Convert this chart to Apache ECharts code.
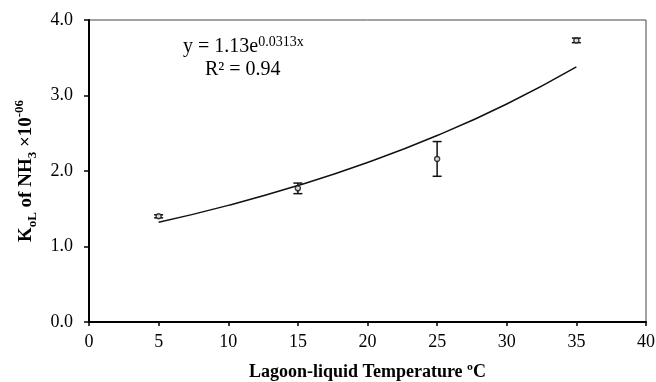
<!DOCTYPE html>
<html><head><meta charset="utf-8">
<script src="https://cdn.jsdelivr.net/npm/echarts@6/dist/echarts.min.js"></script>
<style>html,body{margin:0;padding:0;background:#fff}#c{width:656px;height:382px}</style>
</head><body><div id="c"></div>
<script>
const temps = [5, 15, 25, 35];
const kol = [1.40, 1.77, 2.16, 3.73];
const errs = [0.02, 0.07, 0.23, 0.03];
const trendX = [5, 10, 15, 20, 25, 30, 35];
const trendY = [1.32, 1.545, 1.807, 2.112, 2.47, 2.888, 3.38];
const xTicks = [0, 5, 10, 15, 20, 25, 30, 35, 40];
const yTicks = [0.0, 1.0, 2.0, 3.0, 4.0];

const F = '"Liberation Serif","Times New Roman",serif';
const chart = echarts.init(document.getElementById('c'));
chart.setOption({
  animation: false,
  backgroundColor: '#fff',
  grid: {left: 89, right: 10, top: 20, bottom: 60, show: true, borderColor: '#444', borderWidth: 1,
         containLabel: false, outerBoundsMode: 'none'},
  xAxis: {
    type: 'value', min: xTicks[0], max: xTicks[xTicks.length-1], interval: 5,
    axisLine: {lineStyle: {color: '#000', width: 2}},
    axisTick: {show: true, length: 4, lineStyle: {color: '#000', width: 1.5}},
    axisLabel: {color: '#000', fontFamily: F, fontSize: 18, margin: 11},
    splitLine: {show: false},
    name: 'Lagoon-liquid Temperature ºC', nameLocation: 'middle', nameGap: 41,
    nameTextStyle: {color: '#000', fontFamily: F, fontSize: 18, fontWeight: 'bold'}
  },
  yAxis: {
    type: 'value', min: yTicks[0], max: yTicks[yTicks.length-1], interval: 1,
    axisLine: {show: true, lineStyle: {color: '#000', width: 2}},
    axisTick: {show: true, length: 5, lineStyle: {color: '#000', width: 1.5}},
    axisLabel: {color: '#000', fontFamily: F, fontSize: 18, margin: 16, formatter: v => v.toFixed(1)},
    splitLine: {show: false},
    name: '{b|K}{s|oL}{b| of NH}{s|3}{b| ×10}{p|-06}', nameLocation: 'middle', nameGap: 50, nameRotate: 90,
    nameTextStyle: {
      color: '#000', fontFamily: F, fontSize: 19, fontWeight: 'bold',
      rich: {
        b: {fontFamily: F, fontSize: 19, fontWeight: 'bold', color: '#000', lineHeight: 26, verticalAlign: 'middle'},
        s: {fontFamily: F, fontSize: 13, fontWeight: 'bold', color: '#000', lineHeight: 26, verticalAlign: 'bottom', padding: [7,0,0,0]},
        p: {fontFamily: F, fontSize: 13, fontWeight: 'bold', color: '#000', lineHeight: 26, verticalAlign: 'top', padding: [0,0,9,0]}
      }
    }
  },
  graphic: [
    {type: 'text', left: 183, top: 35, style: {
      text: '{n|y = 1.13e}{p|0.0313x}', fill: '#000',
      rich: {n: {fontFamily: F, fontSize: 20, fill: '#000'}, p: {fontFamily: F, fontSize: 14, fill: '#000', padding: [0,0,9,0]}}
    }},
    {type: 'text', left: 205, top: 60, style: {text: 'R² = 0.94', fill: '#000', fontFamily: F, fontSize: 20}}
  ],
  series: [
    {
      type: 'line', data: trendX.map((x, i) => [x, trendY[i]]), smooth: true, showSymbol: false,
      lineStyle: {color: '#111', width: 1.5}, z: 2
    },
    {
      type: 'custom', z: 3,
      data: temps.map((x, i) => [x, kol[i] - errs[i], kol[i] + errs[i]]),
      renderItem: function (params, api) {
        const lo = api.coord([api.value(0), api.value(1)]);
        const hi = api.coord([api.value(0), api.value(2)]);
        const hw = 4.5;
        const st = {stroke: '#111', lineWidth: 1.5};
        return {type: 'group', children: [
          {type: 'line', shape: {x1: lo[0], y1: lo[1], x2: hi[0], y2: hi[1]}, style: st},
          {type: 'line', shape: {x1: lo[0]-hw, y1: lo[1], x2: lo[0]+hw, y2: lo[1]}, style: st},
          {type: 'line', shape: {x1: hi[0]-hw, y1: hi[1], x2: hi[0]+hw, y2: hi[1]}, style: st}
        ]};
      }
    },
    {
      type: 'scatter', data: temps.map((x, i) => [x, kol[i]]), symbol: 'circle', symbolSize: 5,
      itemStyle: {color: '#fff', borderColor: '#111', borderWidth: 1.5}, z: 4
    }
  ]
});
</script></body></html>
